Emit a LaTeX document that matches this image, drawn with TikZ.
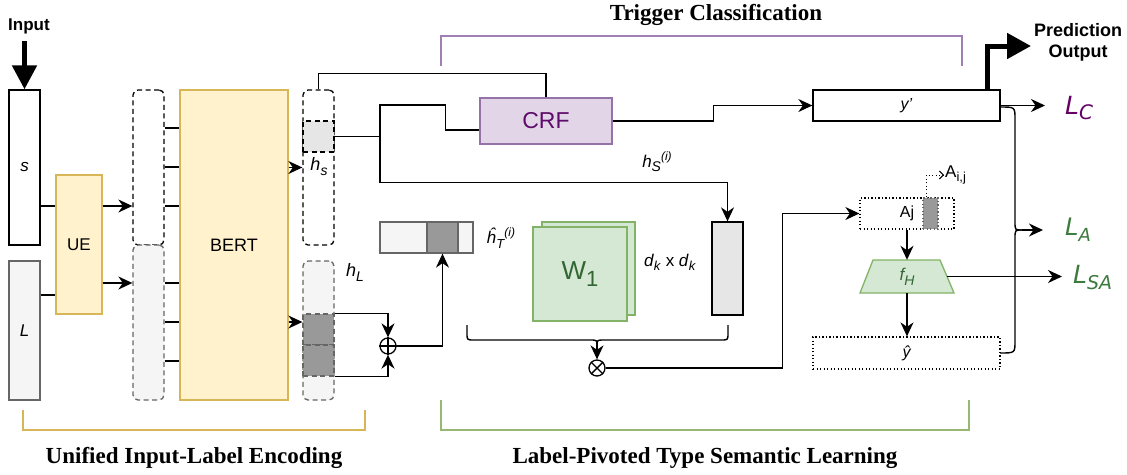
\documentclass[tikz,border=0pt]{standalone}
\usepackage{fontspec}
\setmainfont{Liberation Sans}
\newfontfamily\titlefont{Liberation Serif}
\newfontfamily\lossfont{DejaVu Sans}
\usetikzlibrary{arrows.meta,calc}

\newcommand\setfs[1]{\fontsize{#1}{#1}\selectfont}
% lowered / raised index: shift, size, text
\newcommand\lowr[3]{\raisebox{-#1pt}{\setfs{#2}#3}}
\newcommand\highr[3]{\raisebox{#1pt}{\setfs{#2}#3}}

\definecolor{encFill}{HTML}{FFF2CC}
\definecolor{encLine}{HTML}{D6B656}
\definecolor{crfFill}{HTML}{E1D5E7}
\definecolor{crfLine}{HTML}{9673A6}
\definecolor{crfText}{HTML}{5E0B6B}
\definecolor{semFill}{HTML}{D5E8D4}
\definecolor{semLine}{HTML}{82B366}
\definecolor{semText}{HTML}{336633}
\definecolor{paleGray}{HTML}{F5F5F5}
\definecolor{midGray}{HTML}{E6E6E6}
\definecolor{darkGray}{HTML}{999999}
\definecolor{edgeGray}{HTML}{666666}
\definecolor{lossPurple}{HTML}{660066}
\definecolor{lossGreen}{HTML}{3D7A3D}
\definecolor{trigBracket}{HTML}{A080B3}
\definecolor{encBracket}{HTML}{D6B656}
\definecolor{semBracket}{HTML}{97B874}

\tikzset{
  conn/.style={line width=1.4pt},
  arr/.style={conn,-{Stealth[length=14pt,width=13pt,inset=4.5pt]}},
  bigarr/.style={line width=5pt},
  cell/.style={draw,inner sep=0pt,line width=1.3pt},
  dashedcol/.style={cell,rounded corners=5pt,dash pattern=on 5pt off 3.5pt},
  dashedcell/.style={cell,dash pattern=on 5pt off 3.5pt},
  dottedbox/.style={cell,dash pattern=on 1.3pt off 2.2pt},
  bracket/.style={line width=2.6pt},
  title/.style={font=\titlefont\bfseries\setfs{23}},
}

\begin{document}
\begin{tikzpicture}[x=1pt,y=-1pt]
\useasboundingbox (0,0) rectangle (1127,474);
\fill[white] (0,0) rectangle (1127,474);

% ---------- input sequences ----------
\node[cell,fill=white,minimum width=31pt,minimum height=155pt,font=\setfs{17}\itshape] (s) at (24.5,167.5) {s};
\node[cell,draw=edgeGray,fill=paleGray,minimum width=31pt,minimum height=139pt,font=\setfs{17}\itshape] (L) at (24.5,330.5) {L};
\node[font=\bfseries\setfs{17}] (inlbl) at (29,26) {Input};
\coordinate (instart) at (24.5,41);
\draw[bigarr,-{Triangle[length=24pt,width=24pt]}] (instart) -- (s.north);

% ---------- unified encoder ----------
\node[cell,draw=encLine,fill=encFill,minimum width=46pt,minimum height=139pt,font=\setfs{17}] (UE) at (79,244.5) {UE};
\coordinate (sout) at ($(s.east)+(0,38.5)$);
\draw[conn] (sout) -- (sout -| UE.west);
\coordinate (Lout) at ($(L.east)+(0,-35.5)$);
\draw[conn] (Lout) -- (Lout -| UE.west);

\node[dashedcol,fill=white,minimum width=31pt,minimum height=155pt] (col1) at (148.5,167.5) {};
\node[dashedcol,draw=edgeGray,fill=paleGray,minimum width=31pt,minimum height=155pt] (col2) at (148.5,322.5) {};
\coordinate (ue1) at ($(UE.east)+(0,-38.5)$);
\draw[arr] (ue1) -- (ue1 -| col1.west);
\coordinate (ue2) at ($(UE.east)+(0,38.5)$);
\draw[arr] (ue2) -- (ue2 -| col2.west);

\node[cell,draw=encLine,fill=encFill,minimum width=108pt,minimum height=310pt,font=\setfs{18}] (BERT) at (234,245) {BERT};
\foreach \c in {col1,col2}{
  \foreach \dy in {-39.5,-0.5,38.5}{
    \draw[conn] ($(\c.east)+(0,\dy)$) coordinate (tok) -- (tok -| BERT.west);
  }
}

% ---------- encoder outputs ----------
\node[dashedcol,fill=white,minimum width=31pt,minimum height=155pt] (hscol) at (318.5,167.5) {};
\node[dashedcell,fill=midGray,minimum size=31pt] (hssq) at (318.5,136.5) {};
\node[font=\setfs{18}\itshape] (hslbl) at (319,167) {h\lowr{5}{14}{s}};
\node[dashedcol,draw=edgeGray,fill=paleGray,minimum width=31pt,minimum height=139pt] (hLcol) at (318.5,330.5) {};
\node[dashedcell,draw=edgeGray,fill=darkGray,minimum size=31pt] (hLa) at (318.5,329.5) {};
\node[dashedcell,draw=edgeGray,fill=darkGray,minimum size=31pt] (hLb) at (318.5,360.5) {};
\node[font=\setfs{18}\itshape] (hLlbl) at (355,272) {h\lowr{5}{14}{L}};

\draw[arr] (BERT.east |- hscol.west) -- (hscol.west);
\coordinate (b2) at ($(BERT.east)+(0,77)$);
\draw[arr] (b2) -- (b2 -| hLcol.west);

% ---------- trigger classification ----------
\node[cell,draw=crfLine,fill=crfFill,minimum width=132pt,minimum height=46pt,font=\setfs{23},text=crfText] (CRF) at (546,121) {CRF};
\draw[conn] (hscol.north) -- ++(0,-16) -| (CRF.north);
\coordinate (j1) at (380,136.5);
\draw[conn] (hssq.east) -- (j1);
\draw[conn] (j1) |- ($(CRF.west)+(-34,-16)$) |- ($(CRF.west)+(0,9)$);

\node[cell,fill=white,minimum width=187pt,minimum height=31pt,font=\setfs{16}\itshape] (yp) at (906.5,105.5) {y'};
\draw[arr] (CRF.east) -- ++(101,0) |- (yp.west);

\node[font=\bfseries\fontsize{18}{21}\selectfont,align=center] (pred) at (1078,42) {Prediction\\Output};
\coordinate (pstart) at ($(yp.north east)+(-13,0)$);
\coordinate (ptip) at (1031,46);
\draw[bigarr,-{Triangle[length=24pt,width=25pt]}] (pstart) |- (ptip);

% ---------- type semantic learning ----------
\node[cell,fill=midGray,minimum width=31pt,minimum height=93pt] (hsi) at (727.5,268.5) {};
\draw[arr] (j1) |- ($(hsi.north)+(0,-39)$) -- (hsi.north);
\node[font=\setfs{17}\itshape] (hsilbl) at (657,162) {h\lowr{4}{14}{S}\highr{7}{12}{(i)}};

\node[cell,draw=edgeGray,fill=paleGray,minimum width=93pt,minimum height=31pt] (hT) at (426.5,237.5) {};
\node[cell,draw=edgeGray,fill=darkGray,minimum width=31pt,minimum height=31pt] (hTd) at (442.5,237.5) {};
\node[font=\setfs{17}\itshape] (hTlbl) at (501,238) {\^{h}\lowr{5}{13}{T}\highr{7}{12}{(i)}};

\node[circle,draw,line width=1.3pt,minimum size=16pt,inner sep=0pt] (oplus) at (388,346) {};
\draw[conn] (oplus.north) -- (oplus.south) (oplus.west) -- (oplus.east);
\draw[arr] (hLa.north east) -| (oplus.north);
\draw[arr] (hLb.south east) -| (oplus.south);
\draw[arr] (oplus.east) -| (hTd.south);

\node[cell,draw=semLine,fill=semFill,minimum size=93pt] (Wback) at (588.5,268.5) {};
\node[cell,draw=semLine,fill=semFill,minimum size=94pt,font=\setfs{26},text=semText] (W) at (580,274) {W\raisebox{-7pt}{\setfs{22}1}};
\node[font=\setfs{17}] (dimlbl) at (670,262) {\textit{d}\lowr{4}{13}{\textit{k}} x \textit{d}\lowr{4}{13}{\textit{k}}};

\node[circle,draw,line width=1.3pt,minimum size=16pt,inner sep=0pt] (otimes) at (597,368) {};
\draw[conn] (otimes.north west) -- (otimes.south east) (otimes.north east) -- (otimes.south west);
\draw[conn] (467,325) -- (467,333) .. controls (467,340) .. (474,340) -- (590,340) .. controls (597,340) .. (597,346);
\draw[conn] (728,325) -- (728,333) .. controls (728,340) .. (721,340) -- (604,340) .. controls (597,340) .. (597,346);
\coordinate (btip) at (597,345);
\draw[arr] (btip) -- (otimes);

\node[dottedbox,minimum width=94pt,minimum height=31pt,font=\setfs{16}] (Aj) at (907,213.5) {Aj};
\node[dottedbox,draw=edgeGray,fill=darkGray,minimum width=15pt,minimum height=31pt] (Ajg) at (930.5,213.5) {};
\draw[arr] (otimes.east) -| ($(Aj.west)+(-77,0)$) -- (Aj.west);
\node[anchor=west,inner sep=1pt,font=\setfs{17}] (Aij) at (944,175) {A\lowr{4}{13}{i,j}};
\draw[line width=1pt,dash pattern=on 1.3pt off 2.2pt,-{Straight Barb[length=4pt,width=8pt]}] ($(Ajg.north)+(-4,0)$) |- (Aij.west);

\filldraw[draw=semLine,fill=semFill,line width=1.3pt] (860,293) -- (873,260) -- (940,260) -- (954,293) -- cycle;
\node[minimum width=94pt,minimum height=33pt,inner sep=0pt,font=\setfs{17}\itshape,text=semText] (fH) at (907,276.5) {f\lowr{5}{14}{H}};
\draw[arr] (Aj.south) -- (fH.north);

\node[dottedbox,minimum width=187pt,minimum height=32pt,font=\setfs{16}\itshape] (yhat) at (906.5,353) {\^{y}};
\draw[arr] (fH.south) -- (fH.south |- yhat.north);

% ---------- losses ----------
\node[anchor=west,inner xsep=20pt,inner ysep=0pt,font=\lossfont\itshape\setfs{25},text=lossPurple] (LC) at (1045,108) {L\lowr{5}{20}{C}};
\draw[arr] (yp.east) -- (yp.east -| LC.west);

\draw[conn] (1000,107) .. controls (1015,107) .. (1015,119) -- (1015,222) .. controls (1015,230) .. (1022,230);
\draw[conn] (1000,353) .. controls (1015,353) .. (1015,341) -- (1015,238) .. controls (1015,230) .. (1022,230);
\coordinate (rbtip) at (1022,230);
\node[anchor=west,inner xsep=22pt,inner ysep=0pt,font=\lossfont\itshape\setfs{24},text=lossGreen] (LA) at (1043,230) {L\lowr{6}{18}{A}};
\draw[arr] (rbtip) -- (LA.west);

\coordinate (fHr) at (947,276.5);
\node[anchor=west,inner xsep=11pt,inner ysep=0pt,font=\lossfont\itshape\setfs{25},text=lossGreen] (LSA) at (1062,278) {L\lowr{6}{19}{SA}};
\draw[arr] (fHr) -- (fHr -| LSA.west);

% ---------- section brackets ----------
\draw[bracket,trigBracket] (441,66) |- (962,36) -- (962,66);
\node[title] (trig) at (716,15) {Trigger Classification};
\draw[bracket,encBracket] (23,410) |- (365,430) -- (365,410);
\node[title] (enc) at (194,458) {Unified Input-Label Encoding};
\draw[bracket,semBracket] (441,400) |- (969,430) -- (969,400);
\node[title] (sem) at (705,458) {Label-Pivoted Type Semantic Learning};
\end{tikzpicture}
\end{document}
